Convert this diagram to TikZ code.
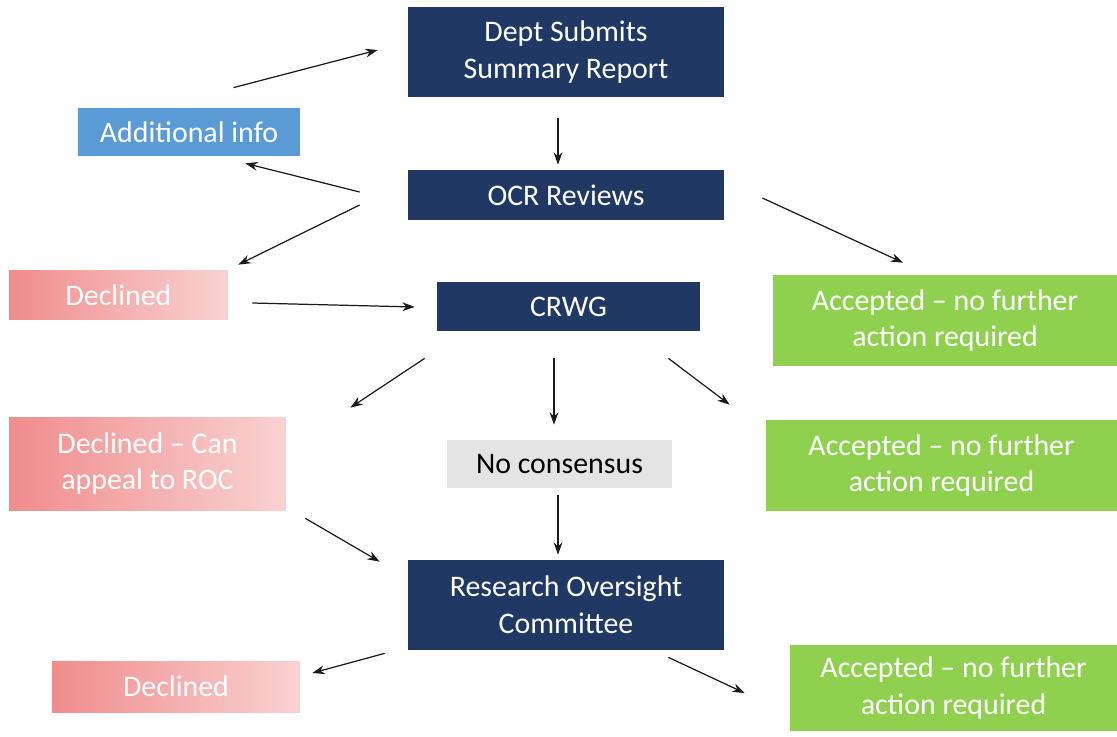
\documentclass[tikz,border=0pt]{standalone}
\usepackage{fontspec}
\setmainfont{Carlito}
\usepackage{xcolor}
\usetikzlibrary{arrows.meta,positioning,calc}
\definecolor{ink}{HTML}{1A1A1A}
\definecolor{navy}{HTML}{1F3864}
\definecolor{skyblue}{HTML}{5B9BD5}
\definecolor{leafgreen}{HTML}{8FD14F}
\definecolor{lightgrey}{HTML}{E4E4E4}
\definecolor{declL}{HTML}{F08C8C}
\definecolor{declR}{HTML}{F9D2D2}
\tikzset{
  basecard/.style={
    draw=none, align=center, inner sep=2pt,
    font=\fontsize{17}{21}\selectfont
  },
  navycard/.style={basecard, fill=navy, text=white,
    minimum width=6.32cm},
  bluecard/.style={basecard, fill=skyblue, text=white},
  greencard/.style={basecard, fill=leafgreen, text=white},
  greycard/.style={basecard, fill=lightgrey, text=black},
  redcard/.style={basecard, left color=declL, right color=declR,
    text=white},
  flow/.style={-{Stealth[length=7pt,width=5pt]}, line width=0.7pt, draw=ink}
}

\begin{document}
\begin{tikzpicture}
  \useasboundingbox[fill=white] (0,0) rectangle (22.34,-14.72);

  % main column
  \node[navycard, minimum height=1.8cm] (dept) at (11.32,-1.04)
    {Dept Submits\\Summary Report};
  \node[navycard, minimum height=1.0cm] (ocr) at (11.32,-3.90) {OCR Reviews};
  \node[navycard, minimum width=5.26cm, minimum height=0.98cm] (crwg)
    at (11.37,-6.13) {CRWG};
  \node[greycard, minimum width=4.5cm, minimum height=0.96cm] (nocons)
    at (11.19,-9.28) {No consensus};
  \node[navycard, minimum height=1.8cm] (roc) at (11.32,-12.10)
    {Research Oversight\\Committee};

  % left side
  \node[bluecard, minimum width=4.44cm, minimum height=0.96cm] (addinfo)
    at (3.78,-2.64) {Additional info};
  \node[redcard, minimum width=4.38cm, minimum height=0.98cm] (decone)
    at (2.37,-5.90) {Declined};
  \node[redcard, minimum width=5.54cm, minimum height=1.86cm] (dectwo)
    at (2.95,-9.27) {Declined -- Can\\appeal to ROC};
  \node[redcard, minimum width=4.96cm, minimum height=1.02cm] (decthree)
    at (3.52,-13.73) {Declined};

  % right side
  \node[greencard, minimum width=6.88cm, minimum height=1.82cm] (accone)
    at (18.90,-6.41) {Accepted -- no further\\action required};
  \node[greencard, minimum width=7.02cm, minimum height=1.82cm] (acctwo)
    at (18.83,-9.31) {Accepted -- no further\\action required};
  \node[greencard, minimum width=6.54cm, minimum height=1.72cm] (accthree)
    at (19.07,-13.76) {Accepted -- no further\\action required};

  % connectors
  \draw[flow] ([shift={(-1.34,0.40)}]addinfo.north east) -- ([shift={(-0.60,0.04)}]dept.west);
  \draw[flow] ([shift={(-0.16,-0.42)}]dept.south) -- ([shift={(-0.16,0.10)}]ocr.north);
  \draw[flow] ([shift={(-0.96,0.06)}]ocr.west) -- ([shift={(-1.10,-0.14)}]addinfo.south east);
  \draw[flow] ([shift={(-0.96,-0.20)}]ocr.west) -- ([shift={(0.20,0.11)}]decone.north east);
  \draw[flow] ([shift={(0.76,-0.06)}]ocr.east) -- ([shift={(-0.84,0.24)}]accone.north);
  \draw[flow] ([shift={(0.48,-0.16)}]decone.east) -- ([shift={(-0.44,-0.01)}]crwg.west);
  \draw[flow] ([shift={(-0.24,-0.54)}]crwg.south west) -- ([shift={(1.28,0.18)}]dectwo.north east);
  \draw[flow] ([shift={(-0.29,-0.54)}]crwg.south) -- ([shift={(-0.11,0.30)}]nocons.north);
  \draw[flow] ([shift={(-0.64,-0.54)}]crwg.south east) -- ([shift={(-0.72,0.30)}]acctwo.north west);
  \draw[flow] ([shift={(0.38,-0.16)}]dectwo.south east) -- ([shift={(-0.56,-0.04)}]roc.north west);
  \draw[flow] ([shift={(-0.03,-0.14)}]nocons.south) -- ([shift={(-0.16,0.10)}]roc.north);
  \draw[flow] ([shift={(-0.46,-0.06)}]roc.south west) -- ([shift={(0.24,0.27)}]decthree.east);
  \draw[flow] ([shift={(-1.12,-0.14)}]roc.south east) -- ([shift={(-0.90,-0.10)}]accthree.west);
\end{tikzpicture}
\end{document}
